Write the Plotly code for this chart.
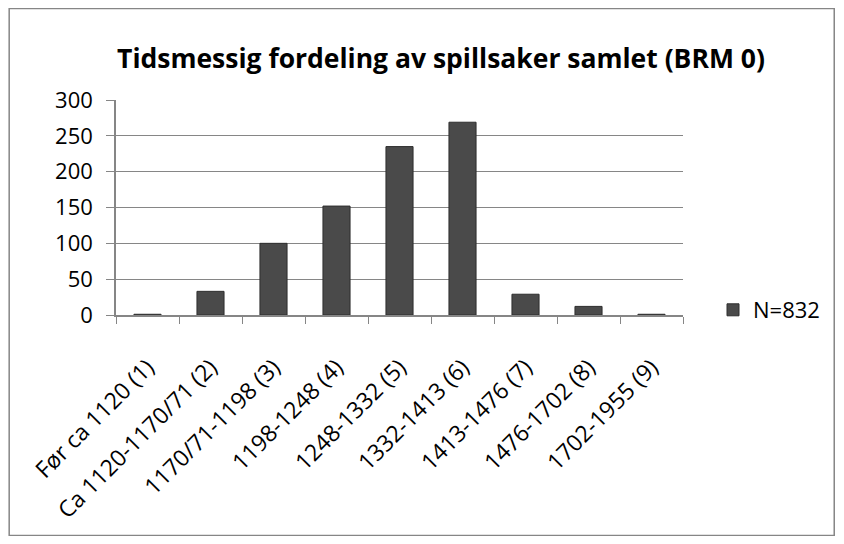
import plotly.graph_objects as go

categories = ["Før ca 1120 (1)", "Ca 1120-1170/71 (2)", "1170/71-1198 (3)", "1198-1248 (4)",
              "1248-1332 (5)", "1332-1413 (6)", "1413-1476 (7)", "1476-1702 (8)", "1702-1955 (9)"]
values = [1, 33, 100, 152, 235, 269, 29, 12, 1]
series_name = "N=832"
title = "Tidsmessig fordeling av spillsaker samlet (BRM 0)"
y_ticks = [0, 50, 100, 150, 200, 250, 300]

FONT = "Open Sans"
W, H = 828, 528
OFF = 8  # page body margin
L, R, T, B = 116 - OFF, 684 - OFF, 100 - OFF, 315 - OFF

pw = R - L
ph = B - T
def px2x(p): return (p - OFF - L) / pw
def px2y(p): return (B - (p - OFF)) / ph

fig = go.Figure()
fig.add_trace(go.Bar(
    x=categories, y=values, name=series_name,
    marker=dict(color="#4a4a4a", line=dict(color="#2e2e2e", width=1)),
    showlegend=True,
))

fig.update_layout(
    width=W, height=H,
    margin=dict(l=L, r=W - R, t=T, b=H - B, pad=0),
    paper_bgcolor="white", plot_bgcolor="white",
    bargap=0.57,
    font=dict(family=FONT, color="black"),
    title=dict(text="<b>" + title + "</b>", x=(441 - OFF) / W, xanchor="center",
               y=1 - (59 - OFF) / H, yanchor="middle", font=dict(size=26.5, family=FONT, color="black")),
    xaxis=dict(
        type="category", tickson="boundaries", ticks="outside", ticklen=7, tickcolor="#868686",
        showline=True, linecolor="#868686", linewidth=1.5, tickangle=-45,
        ticklabelstandoff=28, ticklabelshift=0,
        tickfont=dict(size=23, family=FONT, color="black"), showgrid=False,
    ),
    yaxis=dict(
        range=[0, 300], tickvals=y_ticks, ticks="outside", ticklen=8, tickcolor="#868686",
        showline=True, linecolor="#868686", linewidth=1.5, gridcolor="#868686", gridwidth=1,
        ticklabelstandoff=9,
        tickfont=dict(size=22, family=FONT, color="black"), zeroline=False,
    ),
    legend=dict(x=px2x(713), y=px2y(310), xanchor="left", yanchor="middle",
                font=dict(size=22, family=FONT, color="black"), bgcolor="rgba(0,0,0,0)",
                itemwidth=30),
    shapes=[dict(type="rect", xref="paper", yref="paper",
                 x0=px2x(9), x1=px2x(835.5), y0=px2y(535.5), y1=px2y(8.5),
                 line=dict(color="#868686", width=1.5), fillcolor="rgba(0,0,0,0)", layer="below")],
)

fig.write_html("out.html")
